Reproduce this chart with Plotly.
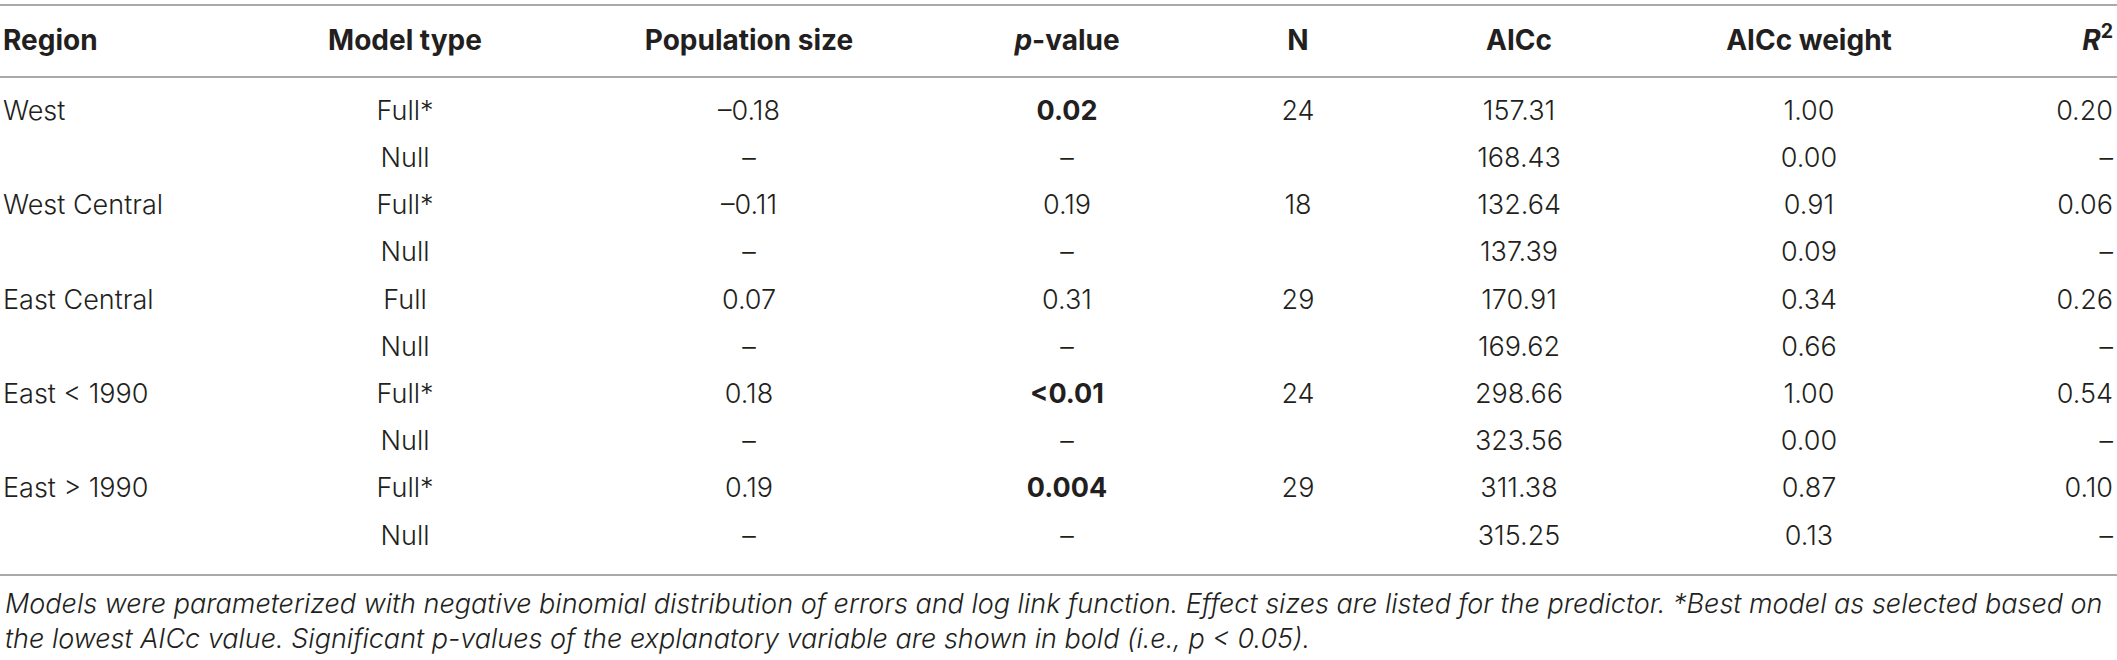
import plotly.graph_objects as go

# Table data
headers = ["Region", "Model type", "Population size", "<i>p</i>-value", "N",
           "AICc", "AICc weight", "<i>R</i><sup>2</sup>"]
regions = ["West", "", "West Central", "", "East Central", "",
           "East < 1990", "", "East > 1990", ""]
model_type = ["Full*", "Null", "Full*", "Null", "Full", "Null",
              "Full*", "Null", "Full*", "Null"]
pop_size = ["–0.18", "–", "–0.11", "–", "0.07", "–", "0.18", "–", "0.19", "–"]
p_value = ["0.02", "–", "0.19", "–", "0.31", "–", "<0.01", "–", "0.004", "–"]
n_obs = ["24", "", "18", "", "29", "", "24", "", "29", ""]
aicc = ["157.31", "168.43", "132.64", "137.39", "170.91", "169.62",
        "298.66", "323.56", "311.38", "315.25"]
aicc_weight = ["1.00", "0.00", "0.91", "0.09", "0.34", "0.66",
               "1.00", "0.00", "0.87", "0.13"]
r2 = ["0.20", "–", "0.06", "–", "0.26", "–", "0.54", "–", "0.10", "–"]

footnote_lines = [
    "Models were parameterized with negative binomial distribution of errors and log link function. "
    "Effect sizes are listed for the predictor. *Best model as selected based on",
    "the lowest AICc value. Significant p-values of the explanatory variable are shown in bold "
    "(i.e., p < 0.05).",
]

# Layout (pixel units of the 2117 x 660 page)
W, H = 2117, 660
col_x = [3, 405, 749, 1067, 1298, 1519, 1809, 2113]
col_pos = ["middle right"] + ["middle center"] * 6 + ["middle left"]
HEADER_Y = 43
FIRST_ROW_Y = 113
ROW_STEP = 47.2
LINES_Y = [5, 77, 575]
FOOT_Y = 621
TEXT = "#231f20"
FONT = "Inter"


def esc(s):
    return s.replace("&", "&amp;").replace("<", "&lt;").replace(">", "&gt;")


def significant(s):
    if s.startswith("<"):
        return True
    try:
        return float(s) < 0.05
    except ValueError:
        return False


columns = [regions, model_type, pop_size, p_value, n_obs, aicc, aicc_weight, r2]
row_y = [FIRST_ROW_Y + i * ROW_STEP for i in range(len(regions))]

fig = go.Figure()

# header
fig.add_trace(go.Scatter(
    x=col_x, y=[HEADER_Y] * len(headers), mode="text",
    text=["<b>" + h + "</b>" for h in headers], textposition=col_pos,
    textfont=dict(family=FONT, size=28, color=TEXT),
    hoverinfo="skip", showlegend=False))

# body columns (empty cells are skipped)
for ci, (cx, pos, vals) in enumerate(zip(col_x, col_pos, columns)):
    xs, ys, txt = [], [], []
    for v, ry in zip(vals, row_y):
        if v == "":
            continue
        t = esc(v)
        if ci == 3 and significant(v):
            t = "<b>" + t + "</b>"
        xs.append(cx)
        ys.append(ry)
        txt.append(t)
    fig.add_trace(go.Scatter(
        x=xs, y=ys, mode="text", text=txt, textposition=pos,
        textfont=dict(family=FONT, size=27, color=TEXT, weight=300),
        hoverinfo="skip", showlegend=False))

# horizontal rules
for ly in LINES_Y:
    fig.add_shape(type="line", x0=0, x1=W, y0=ly, y1=ly, xref="x", yref="y",
                  line=dict(color="#a9a9a9", width=2))

fig.add_annotation(x=3, y=FOOT_Y, xref="x", yref="y",
                   text="<i>" + "<br>".join(esc(s) for s in footnote_lines) + "</i>",
                   showarrow=False, xanchor="left", yanchor="middle", align="left",
                   font=dict(family=FONT, size=27, color=TEXT, weight=300))

fig.update_layout(
    width=W, height=H,
    margin=dict(l=0, r=0, t=0, b=0),
    paper_bgcolor="white", plot_bgcolor="white",
    xaxis=dict(range=[0, W], visible=False, fixedrange=True),
    yaxis=dict(range=[H, 0], visible=False, fixedrange=True),
    hovermode=False,
)

fig.write_html("out.html", config={"displayModeBar": False},
               post_script="document.body.style.margin='0';document.body.style.overflow='hidden';")
